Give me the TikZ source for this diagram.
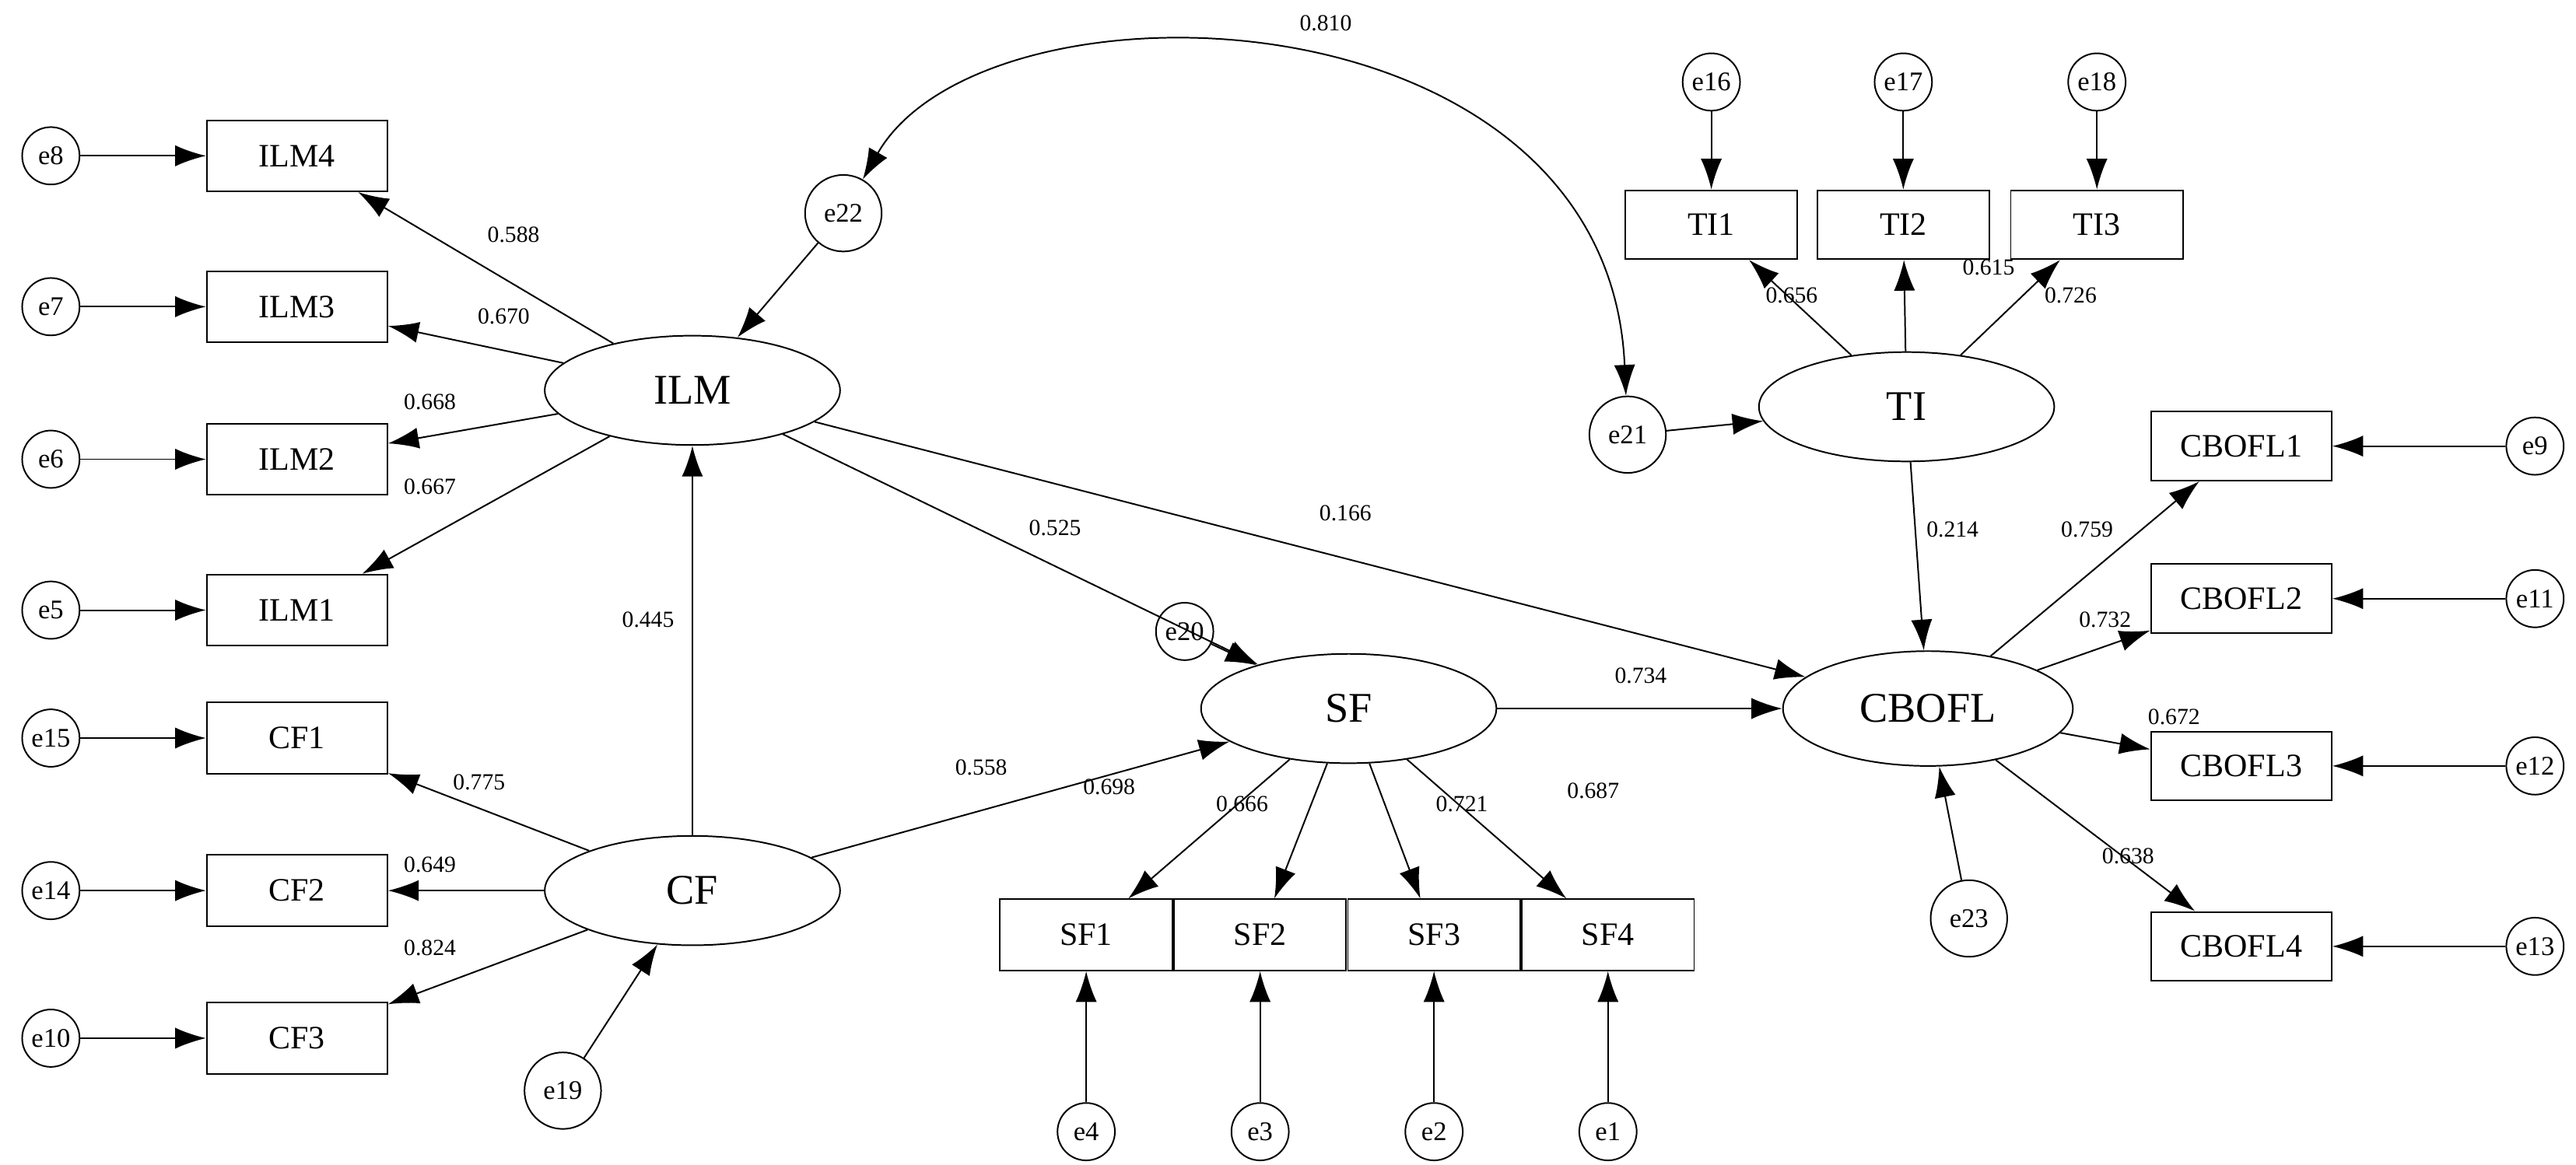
\documentclass[tikz,border=0pt]{standalone}
\usepackage{fontspec}
\setmainfont{Liberation Serif}
\usetikzlibrary{arrows.meta,shapes.geometric}
\begin{document}
\begin{tikzpicture}[x=0.03cm,y=-0.03cm,line width=0.8pt,
 box/.style={draw,rectangle,minimum width=3.3cm,minimum height=1.3cm,inner sep=0,font=\fontsize{17}{17}\selectfont},
 sbox/.style={box,minimum width=3.15cm},
 lat/.style={draw,ellipse,minimum width=5.4cm,minimum height=2cm,inner sep=0,font=\fontsize{22}{22}\selectfont},
 err/.style={draw,circle,minimum size=1.05cm,inner sep=0,font=\fontsize{14}{14}\selectfont},
 errb/.style={err,minimum size=1.4cm},
 lb/.style={font=\fontsize{12}{12}\selectfont},
 >={Latex[length=16pt,width=11pt]}]
\useasboundingbox (0,0) rectangle (1570,710);
% left boxes
\foreach \n/\y/\e in {ILM4/95/e8,ILM3/187/e7,ILM2/280/e6,ILM1/372/e5,CF1/450/e15,CF2/543/e14,CF3/633/e10}{
 \node[box] (\n) at (181,\y) {\n};
 \node[err] (\e) at (31,\y) {\e};
 \draw[->] (\e) -- (\n);
}
\node[lat] (ILM) at (422,238) {ILM};
\node[lat] (CF) at (422,543) {CF};
\node[lat] (SF) at (822,432) {SF};
\node[lat] (TI) at (1162,248) {TI};
\node[lat,minimum width=5.3cm,minimum height=2.1cm] (CBOFL) at (1175,432) {CBOFL};
\node[errb] (e22) at (514,130) {e22};
\node[errb] (e19) at (343,665) {e19};
\node[err] (e20) at (722,385) {e20};
\node[errb] (e21) at (992,265) {e21};
\node[errb] (e23) at (1200,560) {e23};
% SF boxes
\foreach \n/\x/\e in {SF1/662/e4,SF2/768/e3,SF3/874/e2,SF4/980/e1}{
 \node[sbox] (\n) at (\x,570) {\n};
 \node[err] (\e) at (\x,690) {\e};
 \draw[->] (\e) -- (\n);
 \draw[->] (SF) -- (\n);
}
% TI boxes
\foreach \n/\x/\e in {TI1/1043/e16,TI2/1160/e17,TI3/1278/e18}{
 \node[box,minimum width=3.15cm,minimum height=1.26cm] (\n) at (\x,137) {\n};
 \node[err] (\e) at (\x,50) {\e};
 \draw[->] (\e) -- (\n);
 \draw[->] (TI) -- (\n);
}
% CBOFL boxes
\foreach \n/\y/\e in {CBOFL1/272/e9,CBOFL2/365/e11,CBOFL3/467/e12,CBOFL4/577/e13}{
 \node[box,minimum height=1.26cm] (\n) at (1366,\y) {\n};
 \node[err] (\e) at (1545,\y) {\e};
 \draw[->] (\e) -- (\n);
 \draw[->] (CBOFL) -- (\n);
}
\foreach \n in {ILM4,ILM3,ILM2,ILM1}{\draw[->] (ILM) -- (\n);}
\foreach \n in {CF1,CF2,CF3}{\draw[->] (CF) -- (\n);}
\draw[->] (CF) -- (ILM);
\draw[->] (CF) -- (SF);
\draw[->] (ILM) -- (SF);
\draw[->] (ILM) -- (CBOFL);
\draw[->] (SF) -- (CBOFL);
\draw[->] (TI) -- (CBOFL);
\draw[->] (e22) -- (ILM);
\draw[->] (e19) -- (CF);
\draw[->] (e20) -- (SF);
\draw[->] (e21) -- (TI);
\draw[->] (e23) -- (CBOFL);
\draw[<->] (e22) .. controls (600,-20) and (980,-10) .. (e21);
% labels
\foreach \t/\x/\y in {0.810/808/14,0.588/313/143,0.670/307/193,0.668/262/245,0.667/262/297,0.445/395/378,0.775/292/477,0.649/262/527,0.824/262/578,0.525/643/322,0.166/820/313,0.558/598/468,0.734/1000/412,0.698/676/480,0.666/757/490,0.721/891/490,0.687/971/482,0.656/1092/180,0.615/1212/163,0.726/1262/180,0.214/1190/323,0.759/1272/323,0.732/1283/378,0.672/1325/437,0.638/1297/522}{
 \node[lb] at (\x,\y) {\t};
}
\end{tikzpicture}
\end{document}
